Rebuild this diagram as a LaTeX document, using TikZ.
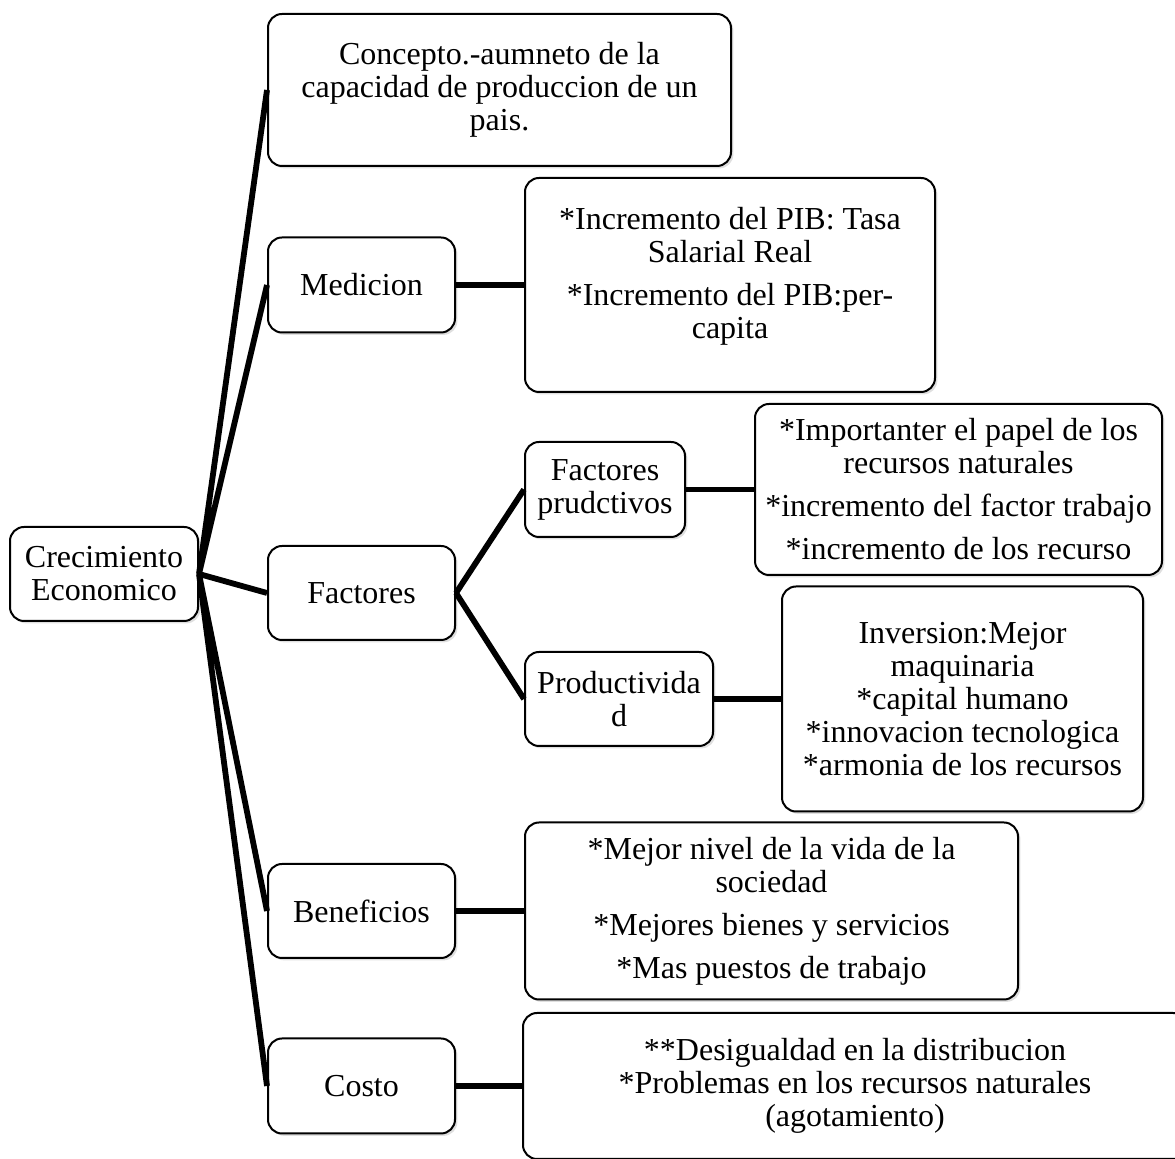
\documentclass[tikz,border=0pt]{standalone}
\usepackage{fontspec}
\setmainfont{Liberation Serif}
\usetikzlibrary{shadows}
\tikzstyle{box}=[draw, rounded corners=7pt, line width=1pt, fill=white,
  align=center, inner sep=2pt, font=\fontsize{16}{16.5}\selectfont,
  drop shadow={shadow xshift=1.2pt, shadow yshift=-1.2pt, opacity=.25}]
\tikzstyle{link}=[line width=2.9pt]

\begin{document}
\begin{tikzpicture}[x=0.5pt, y=-0.5pt]
  \path[use as bounding box, clip] (0,0) rectangle (1175,1159);

  \node[box, minimum width=94pt, minimum height=47pt]     (root) at (104,574) {Crecimiento\\Economico};
  \node[box, minimum width=231.5pt, minimum height=76pt]  (concept) at (499.5,90)
    {Concepto.-aumneto de la\\capacidad de produccion de un\\pais.};
  \node[box, minimum width=93.5pt, minimum height=47.5pt] (medicion) at (361.5,285) {Medicion};
  \node[box, minimum width=205pt, minimum height=107pt]   (medDet) at (730,285)
    {*Incremento del PIB: Tasa\\Salarial Real\\[5pt]*Incremento del PIB:per-\\capita\\[-4pt]~};
  \node[box, minimum width=93.5pt, minimum height=47pt]   (factores) at (361.5,593) {Factores};
  \node[box, minimum width=80pt, minimum height=47.5pt]   (fprod) at (605,489.5) {Factores\\prudctivos};
  \node[box, minimum width=203.5pt, minimum height=85.5pt] (fprodDet) at (958.5,489.5)
    {*Importanter el papel de los\\recursos naturales\\[5pt]*incremento del factor trabajo\\[5pt]*incremento de los recurso};
  \node[box, minimum width=94pt, minimum height=47pt]     (prod) at (619,699) {Productivida\\d};
  \node[box, minimum width=180.5pt, minimum height=112.5pt] (prodDet) at (962.5,699)
    {Inversion:Mejor\\maquinaria\\{}*capital humano\\{}*innovacion tecnologica\\{}*armonia de los recursos};
  \node[box, minimum width=93.5pt, minimum height=47pt]   (benef) at (361.5,911) {Beneficios};
  \node[box, minimum width=246.5pt, minimum height=88.5pt] (benefDet) at (771.5,911)
    {*Mejor nivel de la vida de la\\sociedad\\[5pt]*Mejores bienes y servicios\\[5pt]*Mas puestos de trabajo};
  \node[box, minimum width=93.5pt, minimum height=47.5pt] (costo) at (361.5,1086) {Costo};
  \node[box, minimum width=332pt, minimum height=73pt]    (costoDet) at (855,1086)
    {**Desigualdad en la distribucion\\{}*Problemas en los recursos naturales\\(agotamiento)};

  \draw[link] (root.east) -- (concept.west) (root.east) -- (medicion.west)
    (root.east) -- (factores.west) (root.east) -- (benef.west) (root.east) -- (costo.west);
  \draw[link] (medicion) -- (medDet) (benef) -- (benefDet) (costo) -- (costoDet);
  \draw[link] (factores.east) -- (fprod.west) (factores.east) -- (prod.west);
  \draw[link] (fprod) -- (fprodDet) (prod) -- (prodDet);
\end{tikzpicture}
\end{document}
